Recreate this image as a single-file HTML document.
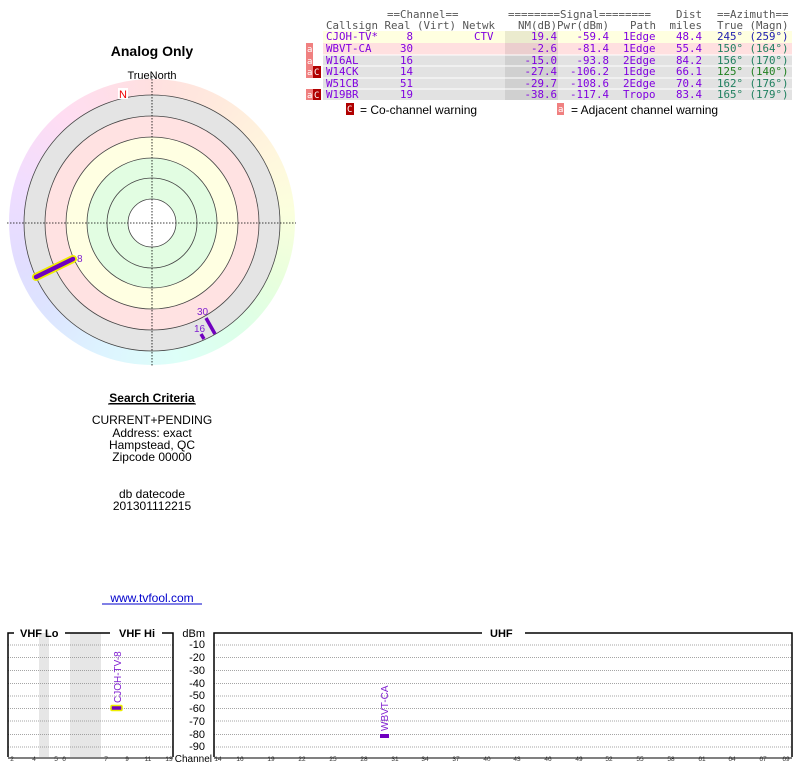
<!DOCTYPE html>
<html><head><meta charset="utf-8"><style>
body{margin:0;background:#fff;width:800px;height:768px;overflow:hidden;position:relative;font-family:"Liberation Sans",sans-serif}
.wheel{position:absolute;left:9px;top:79px;width:286px;height:286px;border-radius:50%;
background:conic-gradient(#ffe0e0 0deg,#ffeadd 30deg,#fff6dd 60deg,#fbffdd 85deg,#e8ffdd 115deg,#ddffe8 140deg,#ddfff8 170deg,#ddf4ff 200deg,#dde4ff 230deg,#e2ddff 255deg,#f0ddff 285deg,#ffddf2 320deg,#ffe0e0 360deg)}
svg{position:absolute;left:0;top:0}
</style></head><body>
<div class="wheel"></div>
<svg width="800" height="768" viewBox="0 0 800 768">
<g font-family="Liberation Sans, sans-serif">
<text x="152" y="56" font-size="14" font-weight="bold" text-anchor="middle">Analog Only</text>
<text x="152" y="79" font-size="11" text-anchor="middle">TrueNorth</text>
<circle cx="152" cy="223" r="128" fill="#e4e4e4" stroke="#444" stroke-width="0.8"/>
<circle cx="152" cy="223" r="107" fill="#ffe2e2" stroke="#444" stroke-width="0.8"/>
<circle cx="152" cy="223" r="86" fill="#ffffe2" stroke="#444" stroke-width="0.8"/>
<circle cx="152" cy="223" r="65" fill="#e2fde2" stroke="#444" stroke-width="0.8"/>
<circle cx="152" cy="223" r="45" fill="#e2fde2" stroke="#444" stroke-width="0.8"/>
<circle cx="152" cy="223" r="24" fill="#fff" stroke="#444" stroke-width="0.8"/>
<line x1="7" y1="223" x2="296" y2="223" stroke="#000" stroke-dasharray="1.5,1.5" stroke-width="0.8"/>
<line x1="152" y1="76" x2="152" y2="367" stroke="#000" stroke-dasharray="1.5,1.5" stroke-width="0.8"/>
<rect x="118" y="88" width="10" height="11" fill="#fff"/>
<text x="123" y="98" font-size="11" fill="#e00" text-anchor="middle">N</text>
<line x1="36" y1="277" x2="73" y2="259" stroke="#ee0" stroke-width="8" stroke-linecap="round"/>
<line x1="36" y1="277" x2="73" y2="259" stroke="#7000c0" stroke-width="4.5" stroke-linecap="round"/>
<text x="77" y="262" font-size="10" fill="#8020d0">8</text>
<line x1="206" y1="318" x2="215" y2="334" stroke="#7000c0" stroke-width="3.5"/>
<line x1="201" y1="334" x2="204" y2="339" stroke="#7000c0" stroke-width="3.5"/>
<text x="197" y="315" font-size="10" fill="#8020d0">30</text>
<text x="194" y="332" font-size="10" fill="#8020d0">16</text>

<text x="152" y="402" font-size="12" font-weight="bold" text-anchor="middle" text-decoration="underline">Search Criteria</text>
<line x1="108" y1="404" x2="196" y2="404" stroke="#000" stroke-width="1"/>
<g font-size="12" text-anchor="middle">
<text x="152" y="424">CURRENT+PENDING</text>
<text x="152" y="437">Address: exact</text>
<text x="152" y="449">Hampstead, QC</text>
<text x="152" y="461">Zipcode 00000</text>
<text x="152" y="498">db datecode</text>
<text x="152" y="510">201301112215</text>
<text x="152" y="602" fill="#00c">www.tvfool.com</text>
</g>
<line x1="102" y1="604" x2="202" y2="604" stroke="#00c" stroke-width="1"/>
</g>

<!-- table -->
<g font-family="DejaVu Sans Mono, Liberation Mono, monospace" font-size="10.8">
<rect x="323" y="31" width="469" height="12" fill="#ffffe0"/>
<rect x="323" y="43" width="469" height="12" fill="#ffe0e0"/>
<rect x="323" y="55" width="469" height="45" fill="#e2e2e2"/>
<rect x="505" y="31" width="53" height="69" fill="#000" opacity="0.08"/>
<line x1="323" y1="55" x2="792" y2="55" stroke="#fff"/><line x1="323" y1="66" x2="792" y2="66" stroke="#fff"/><line x1="323" y1="78" x2="792" y2="78" stroke="#fff"/><line x1="323" y1="89" x2="792" y2="89" stroke="#fff"/>
<g fill="#555">
<text x="387" y="18">==Channel==</text>
<text x="508" y="18">========Signal========</text>
<text x="702" y="18" text-anchor="end">Dist</text>
<text x="717" y="18">==Azimuth==</text>
<text x="326" y="29">Callsign Real (Virt) Netwk</text>
<text x="557" y="29" text-anchor="end">NM(dB)</text>
<text x="609" y="29" text-anchor="end">Pwr(dBm)</text>
<text x="656" y="29" text-anchor="end">Path</text>
<text x="702" y="29" text-anchor="end">miles</text>
<text x="717" y="29">True (Magn)</text>
</g>
<g fill="#8000e0">
<text x="326" y="40">CJOH-TV*</text><text x="413" y="40" text-anchor="end">8</text><text x="474" y="40">CTV</text><text x="557" y="40" text-anchor="end">19.4</text><text x="609" y="40" text-anchor="end">-59.4</text><text x="623" y="40">1Edge</text><text x="702" y="40" text-anchor="end">48.4</text>
<text x="326" y="52">WBVT-CA</text><text x="413" y="52" text-anchor="end">30</text><text x="557" y="52" text-anchor="end">-2.6</text><text x="609" y="52" text-anchor="end">-81.4</text><text x="623" y="52">1Edge</text><text x="702" y="52" text-anchor="end">55.4</text>
<text x="326" y="64">W16AL</text><text x="413" y="64" text-anchor="end">16</text><text x="557" y="64" text-anchor="end">-15.0</text><text x="609" y="64" text-anchor="end">-93.8</text><text x="623" y="64">2Edge</text><text x="702" y="64" text-anchor="end">84.2</text>
<text x="326" y="75">W14CK</text><text x="413" y="75" text-anchor="end">14</text><text x="557" y="75" text-anchor="end">-27.4</text><text x="609" y="75" text-anchor="end">-106.2</text><text x="623" y="75">1Edge</text><text x="702" y="75" text-anchor="end">66.1</text>
<text x="326" y="87">W51CB</text><text x="413" y="87" text-anchor="end">51</text><text x="557" y="87" text-anchor="end">-29.7</text><text x="609" y="87" text-anchor="end">-108.6</text><text x="623" y="87">2Edge</text><text x="702" y="87" text-anchor="end">70.4</text>
<text x="326" y="98">W19BR</text><text x="413" y="98" text-anchor="end">19</text><text x="557" y="98" text-anchor="end">-38.6</text><text x="609" y="98" text-anchor="end">-117.4</text><text x="623" y="98">Tropo</text><text x="702" y="98" text-anchor="end">83.4</text>
</g>
<text x="717" y="40" fill="#2020b0">245° (259°)</text>
<text x="717" y="52" fill="#208060">150° (164°)</text>
<text x="717" y="64" fill="#208060">156° (170°)</text>
<text x="717" y="75" fill="#208020">125° (140°)</text>
<text x="717" y="87" fill="#208060">162° (176°)</text>
<text x="717" y="98" fill="#208060">165° (179°)</text>
<!-- warnings -->
<rect x="306" y="43" width="7" height="12" fill="#f08080"/><text x="307" y="52" fill="#fff" font-size="9">a</text>
<rect x="306" y="55" width="7" height="11" fill="#f08080"/><text x="307" y="64" fill="#fff" font-size="9">a</text>
<rect x="306" y="66" width="7" height="12" fill="#f08080"/><text x="307" y="75" fill="#fff" font-size="9">a</text>
<rect x="313" y="66" width="8" height="12" fill="#b00000"/><text x="314" y="75" fill="#fff" font-size="9">C</text>
<rect x="306" y="89" width="7" height="11" fill="#f08080"/><text x="307" y="98" fill="#fff" font-size="9">a</text>
<rect x="313" y="89" width="8" height="11" fill="#b00000"/><text x="314" y="98" fill="#fff" font-size="9">C</text>
<rect x="346" y="103" width="8" height="12" fill="#b00000"/><text x="347" y="112" fill="#fff" font-size="9">C</text>
<rect x="557" y="103" width="7" height="12" fill="#f08080"/><text x="558" y="112" fill="#fff" font-size="9">a</text>
</g>
<g font-family="Liberation Sans, sans-serif" font-size="12">
<text x="360" y="114">= Co-channel warning</text>
<text x="571" y="114">= Adjacent channel warning</text>
</g>

<!-- bottom chart -->
<g font-family="Liberation Sans, sans-serif">
<rect x="39" y="633" width="10" height="124" fill="#e6e6e6"/>
<rect x="70" y="633" width="31" height="124" fill="#e6e6e6"/>
<g stroke="#888" stroke-dasharray="1,1" stroke-width="0.8">
<line x1="8" y1="645" x2="173" y2="645"/><line x1="8" y1="657.5" x2="173" y2="657.5"/><line x1="8" y1="670.5" x2="173" y2="670.5"/><line x1="8" y1="683.5" x2="173" y2="683.5"/><line x1="8" y1="696" x2="173" y2="696"/><line x1="8" y1="708.5" x2="173" y2="708.5"/><line x1="8" y1="721" x2="173" y2="721"/><line x1="8" y1="734.5" x2="173" y2="734.5"/><line x1="8" y1="747" x2="173" y2="747"/>
<line x1="214" y1="645" x2="792" y2="645"/><line x1="214" y1="657.5" x2="792" y2="657.5"/><line x1="214" y1="670.5" x2="792" y2="670.5"/><line x1="214" y1="683.5" x2="792" y2="683.5"/><line x1="214" y1="696" x2="792" y2="696"/><line x1="214" y1="708.5" x2="792" y2="708.5"/><line x1="214" y1="721" x2="792" y2="721"/><line x1="214" y1="734.5" x2="792" y2="734.5"/><line x1="214" y1="747" x2="792" y2="747"/>
</g>
<g fill="none" stroke="#000" stroke-width="1.5">
<polyline points="8,757 8,633 14,633"/><polyline points="65,633 110,633"/><polyline points="162,633 173,633 173,757"/>
<polyline points="214,757 214,633 482,633"/><polyline points="525,633 792,633 792,757"/>
<line x1="8" y1="758" x2="173" y2="758" stroke-width="1"/><line x1="214" y1="758" x2="792" y2="758" stroke-width="1"/>
</g>
<g font-size="11" font-weight="bold">
<text x="20" y="637">VHF Lo</text><text x="119" y="637">VHF Hi</text><text x="490" y="637">UHF</text>
</g>
<g font-size="11" text-anchor="end">
<text x="205" y="637">dBm</text><text x="205" y="648">-10</text><text x="205" y="661">-20</text><text x="205" y="674">-30</text><text x="205" y="687">-40</text><text x="205" y="699">-50</text><text x="205" y="712">-60</text><text x="205" y="725">-70</text><text x="205" y="738">-80</text><text x="205" y="750">-90</text>
<text x="212" y="762" font-size="10">Channel</text>
</g>
<g font-size="6.5" text-anchor="middle" fill="#333">
<rect x="6" y="754" width="162" height="8" fill="#fff" opacity="0"/>
<text x="12" y="761">2</text><text x="34" y="761">4</text><text x="56" y="761">5</text><text x="64" y="761">6</text><text x="106" y="761">7</text><text x="127" y="761">9</text><text x="148" y="761">11</text><text x="169" y="761">13</text>
<text x="218" y="761">14</text><text x="240" y="761">16</text><text x="271" y="761">19</text><text x="302" y="761">22</text><text x="333" y="761">25</text><text x="364" y="761">28</text><text x="395" y="761">31</text><text x="425" y="761">34</text><text x="456" y="761">37</text><text x="487" y="761">40</text><text x="517" y="761">43</text><text x="548" y="761">46</text><text x="579" y="761">49</text><text x="609" y="761">52</text><text x="640" y="761">55</text><text x="671" y="761">58</text><text x="702" y="761">61</text><text x="732" y="761">64</text><text x="763" y="761">67</text><text x="786" y="761">69</text>
</g>
<rect x="111" y="705.5" width="11" height="5" fill="#7000c0" stroke="#ee0" stroke-width="1.5" rx="1"/>
<rect x="380" y="734" width="9" height="4" fill="#7000c0"/>
<text transform="translate(121,703) rotate(-90)" font-size="10" fill="#8020d0">CJOH-TV-8</text>
<text transform="translate(388,731) rotate(-90)" font-size="10" fill="#8020d0">WBVT-CA</text>
</g>
</svg>
</body></html>
